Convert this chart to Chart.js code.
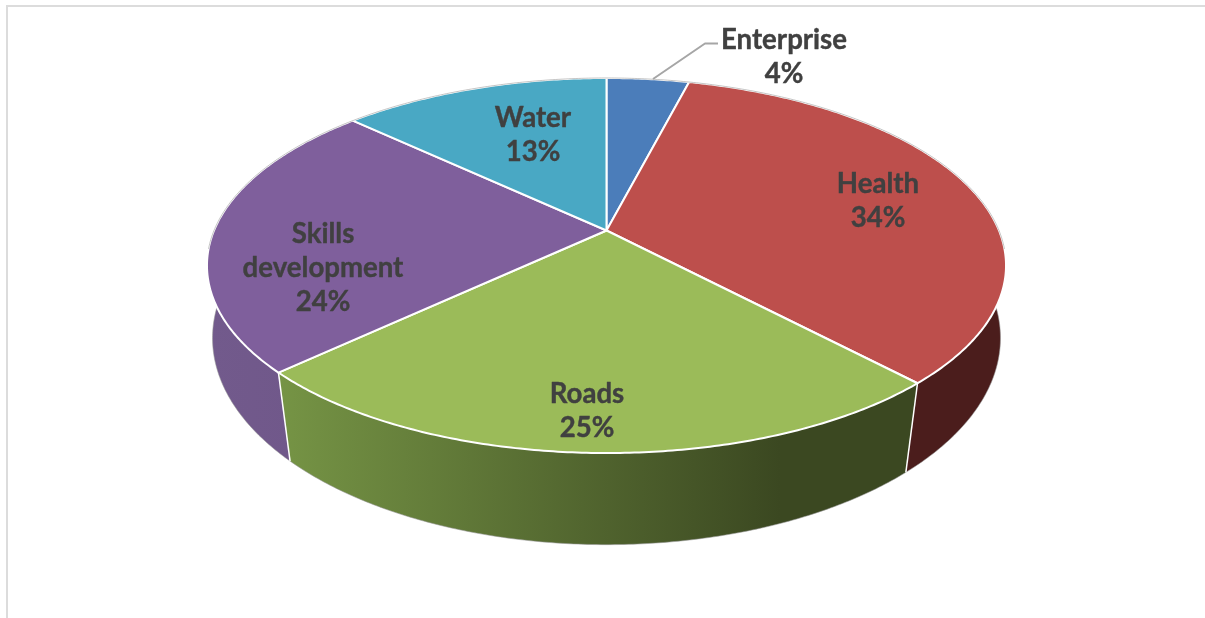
<!DOCTYPE html>
<html>
<head>
<meta charset="utf-8">
<title>Budget by sector</title>
<script src="https://cdn.jsdelivr.net/npm/chart.js@4"></script>
<style>
  html, body { margin: 0; background: #fff; overflow: hidden; }
  #wrap { position: relative; width: 1205px; height: 618px; }
  #frame { position: absolute; left: 6px; top: 5px; right: -4px; bottom: -4px; border: 2px solid #dcdcdc; }
  canvas { position: absolute; left: 0; top: 0; }
</style>
</head>
<body>
<div id="wrap">
  <div id="frame"></div>
  <canvas id="pie" width="1205" height="618"></canvas>
</div>
<script>
// Data
const categories = ["Enterprise", "Health", "Roads", ["Skills", "development"], "Water"];
const shares = [4, 34, 25, 24, 13];

// Slice colours: top face, then side wall gradient (left to right)
const topColors = ["#4b7dba", "#bd4f4c", "#9bbb59", "#7f5f9c", "#49a8c4"];
const wallLeft = ["#3a5d8a", "#4d1e1d", "#7e9f4a", "#725a8c", "#38809a"];
const wallRight = ["#3a5d8a", "#4b1d1c", "#3b4821", "#664c80", "#38809a"];

// Centre of each label block (x) and first baseline (y)
const labelSpots = [[784, 49], [878, 193], [587, 403], [323, 243], [533, 127]];

// Tilted disc: unit circle to screen, nearer points are drawn larger
const topRim = { cx: 606.5, cy: 230.5, rx: 392.5, ry: 181, persp: 0.1867 };
const lowRim = { cx: 606.5, cy: 307, rx: 389.5, ry: 202, persp: 0.15 };

function rimPoint(rim, a) {
  const u = Math.cos(a), v = Math.sin(a);
  const w = 1 - rim.persp * v;
  return { x: rim.cx + rim.rx * u / w, y: rim.cy + rim.ry * v / w };
}

function sampleAngles(start, end) {
  const steps = Math.max(2, Math.ceil((end - start) / 0.01));
  const out = [];
  for (let i = 0; i <= steps; i++) out.push(start + (end - start) * i / steps);
  return out;
}

function traceRim(ctx, rim, start, end) {
  ctx.beginPath();
  sampleAngles(start, end).forEach((a, k) => {
    const p = rimPoint(rim, a);
    if (k === 0) ctx.moveTo(p.x, p.y); else ctx.lineTo(p.x, p.y);
  });
}

// Replaces the flat arcs with a thick tilted pie, angles come from the arc elements
const pie3d = {
  id: "pie3d",
  beforeDatasetDraw(chart, args) {
    const ctx = chart.ctx;
    const arcs = args.meta.data;

    // walls first, the top face hides the back half
    arcs.forEach((arc, i) => {
      const angles = sampleAngles(arc.startAngle, arc.endAngle);
      const grad = ctx.createLinearGradient(207, 0, 780, 0);
      grad.addColorStop(0, wallLeft[i]);
      grad.addColorStop(1, wallRight[i]);
      ctx.beginPath();
      angles.forEach((a, k) => {
        const p = rimPoint(topRim, a);
        if (k === 0) ctx.moveTo(p.x, p.y); else ctx.lineTo(p.x, p.y);
      });
      angles.slice().reverse().forEach((a) => {
        const p = rimPoint(lowRim, a);
        ctx.lineTo(p.x, p.y);
      });
      ctx.closePath();
      ctx.fillStyle = grad;
      ctx.fill();
    });

    // thin grey rim along the outside
    traceRim(ctx, lowRim, -0.2, Math.PI + 0.2);
    ctx.strokeStyle = "rgba(150,150,150,0.55)";
    ctx.lineWidth = 1;
    ctx.stroke();

    // white seams between walls on the visible side
    arcs.forEach((arc) => {
      if (Math.sin(arc.startAngle) < 0.2) return;
      const a = rimPoint(topRim, arc.startAngle), b = rimPoint(lowRim, arc.startAngle);
      ctx.beginPath();
      ctx.moveTo(a.x, a.y);
      ctx.lineTo(b.x, b.y);
      ctx.strokeStyle = "#fff";
      ctx.lineWidth = 1.5;
      ctx.stroke();
    });

    // top face
    arcs.forEach((arc) => {
      ctx.beginPath();
      ctx.moveTo(topRim.cx, topRim.cy);
      sampleAngles(arc.startAngle, arc.endAngle).forEach((a) => {
        const p = rimPoint(topRim, a);
        ctx.lineTo(p.x, p.y);
      });
      ctx.closePath();
      ctx.fillStyle = arc.options.backgroundColor;
      ctx.fill();
      ctx.strokeStyle = "#fff";
      ctx.lineWidth = 2;
      ctx.lineJoin = "round";
      ctx.stroke();
    });

    // grey rim around the far edge
    traceRim(ctx, topRim, Math.PI - 0.1, 2 * Math.PI + 0.1);
    ctx.strokeStyle = "rgba(150,150,150,0.55)";
    ctx.lineWidth = 1;
    ctx.stroke();

    return false;
  },
  afterDatasetsDraw(chart) {
    const ctx = chart.ctx;

    // leader line for the small slice
    ctx.beginPath();
    ctx.moveTo(653, 79);
    ctx.lineTo(705, 43.5);
    ctx.lineTo(718, 43.5);
    ctx.strokeStyle = "#a6a6a6";
    ctx.lineWidth = 2;
    ctx.stroke();

    ctx.font = "bold 27.6px Lato";
    ctx.fillStyle = "#404040";
    ctx.strokeStyle = "#404040";
    ctx.lineWidth = 0.4;
    ctx.textAlign = "center";
    ctx.textBaseline = "alphabetic";
    chart.data.labels.forEach((label, i) => {
      const lines = [].concat(label, shares[i] + "%");
      lines.forEach((line, k) => {
        const y = labelSpots[i][1] + k * 34;
        ctx.fillText(line, labelSpots[i][0], y);
        ctx.strokeText(line, labelSpots[i][0], y);
      });
    });
  }
};

new Chart(document.getElementById("pie"), {
  type: "pie",
  data: {
    labels: categories,
    datasets: [{ data: shares, backgroundColor: topColors, borderWidth: 0 }]
  },
  options: {
    responsive: false,
    animation: false,
    plugins: { legend: { display: false }, tooltip: { enabled: false } }
  },
  plugins: [pie3d]
});
</script>
</body>
</html>
